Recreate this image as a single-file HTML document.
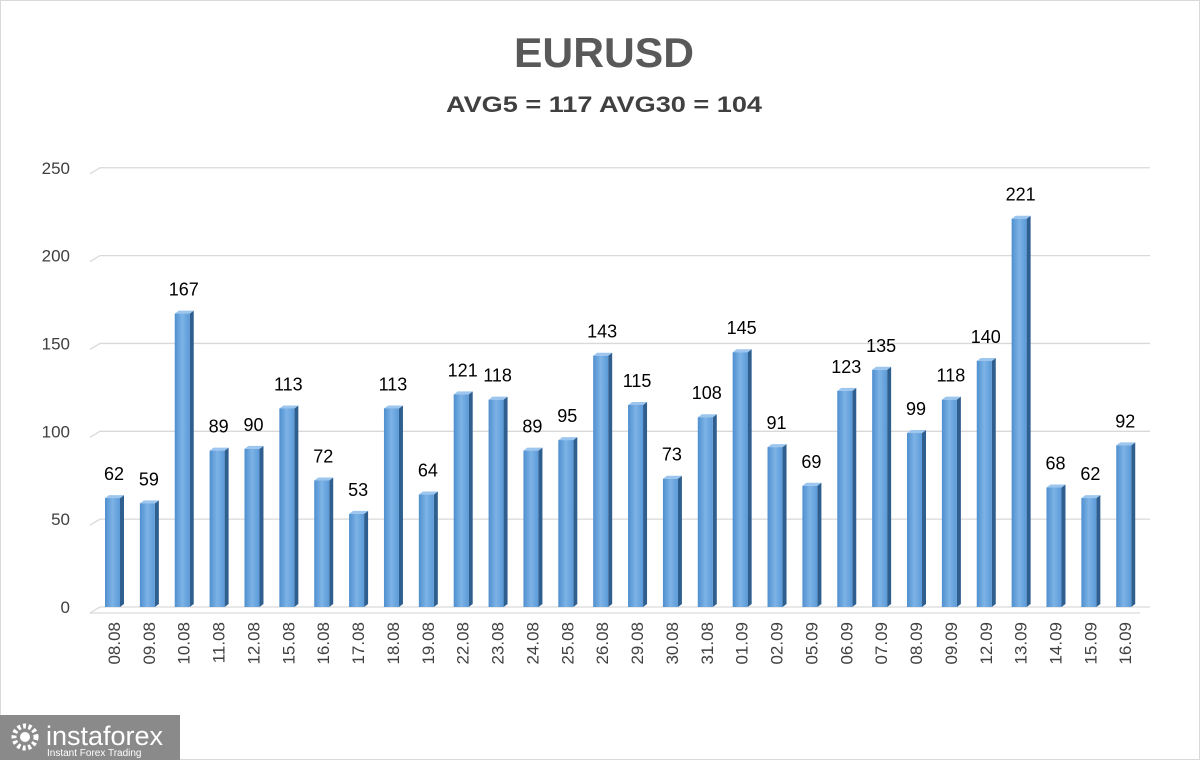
<!DOCTYPE html>
<html><head><meta charset="utf-8"><style>
body{margin:0;background:#fff}
svg{display:block;font-family:"Liberation Sans","DejaVu Sans",sans-serif}
</style></head><body>
<svg width="1200" height="760" viewBox="0 0 1200 760" xmlns="http://www.w3.org/2000/svg">
<defs>
<linearGradient id="g" x1="0" x2="1" y1="0" y2="0">
<stop offset="0" stop-color="#4f8fcf"/><stop offset="0.5" stop-color="#7db3e6"/><stop offset="1" stop-color="#5b9ad8"/>
</linearGradient>
</defs>
<rect x="0.5" y="0.5" width="1199" height="759" fill="#fff" stroke="#d9d9d9"/>
<text x="604" y="67" font-size="42" font-weight="bold" fill="#595959" text-anchor="middle" textLength="180" lengthAdjust="spacingAndGlyphs">EURUSD</text>
<text x="604" y="112" font-size="22" font-weight="bold" fill="#404040" text-anchor="middle" textLength="316" lengthAdjust="spacingAndGlyphs">AVG5 = 117 AVG30 = 104</text>
<g stroke="#d9d9d9" stroke-width="1.3" fill="none" id="grid"></g>
<g id="ylab" font-size="17" fill="#404040" text-anchor="end"></g>
<g id="bars"></g>
<g id="vl" font-size="18" fill="#000" text-anchor="middle"></g>
<g id="xl" font-size="17" fill="#404040"></g>
<rect x="0" y="715" width="180" height="45" fill="#8a8a8a"/>
<g fill="#fff" transform="translate(25,737)">
<circle r="11" fill="none" stroke="#fff" stroke-width="5" stroke-dasharray="3 2.5"/>
<circle r="5"/>
</g>
<text x="46" y="745" font-size="27" fill="#fff">instaforex</text>
<text x="47" y="756" font-size="10" fill="#fff">Instant Forex Trading</text>
</svg>
<script>
var v=[62,59,167,89,90,113,72,53,113,64,121,118,89,95,143,115,73,108,145,91,69,123,135,99,118,140,221,68,62,92];
var d=["08.08","09.08","10.08","11.08","12.08","15.08","16.08","17.08","18.08","19.08","22.08","23.08","24.08","25.08","26.08","29.08","30.08","31.08","01.09","02.09","05.09","06.09","07.09","08.09","09.09","12.09","13.09","14.09","15.09","16.09"];
var ns="http://www.w3.org/2000/svg";
function el(p,t,a,txt){var e=document.createElementNS(ns,t);for(var k in a)e.setAttribute(k,a[k]);if(txt!=null)e.textContent=txt;document.getElementById(p).appendChild(e);}
var y0=607,s=1.757;
for(var i=0;i<=5;i++){var y=y0-i*50*s;
el("grid","polyline",{points:"90,"+(y+6)+" 100,"+y+" 1150,"+y});
el("ylab","text",{x:70,y:y+6},String(i*50));}
el("grid","line",{x1:90,y1:y0+6,x2:1140,y2:y0+6});
for(var i=0;i<30;i++){var x=105+i*34.87,h=v[i]*s,t=y0-h;
el("bars","polygon",{points:(x+15)+","+t+" "+(x+19)+","+(t-3)+" "+(x+19)+","+(y0-3)+" "+(x+15)+","+y0,fill:"#2f5f8f"});
el("bars","polygon",{points:x+","+t+" "+(x+4)+","+(t-3)+" "+(x+19)+","+(t-3)+" "+(x+15)+","+t,fill:"#9cc6ee"});
el("bars","rect",{x:x,y:t,width:15,height:h,fill:"url(#g)"});
el("vl","text",{x:x+9,y:t-18},String(v[i]));
el("xl","text",{x:0,y:0,transform:"translate("+(x+15)+",622) rotate(-90)","text-anchor":"end"},d[i]);}
</script>
</body></html>
